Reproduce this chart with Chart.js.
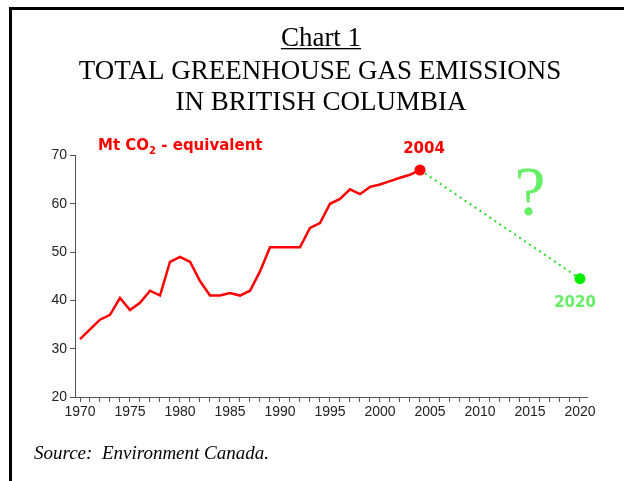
<!DOCTYPE html>
<html>
<head>
<meta charset="utf-8">
<script src="https://cdn.jsdelivr.net/npm/chart.js@4.4.1/dist/chart.umd.min.js"></script>
<style>
    html, body { margin: 0; padding: 0; background: #fff; }
    #chart { display: block; }
</style>
</head>
<body>
<canvas id="chart" width="624" height="481"></canvas>
<script>
// Emissions, Mt CO2-equivalent
const years = [1970, 1971, 1972, 1973, 1974, 1975, 1976, 1977, 1978, 1979,
               1980, 1981, 1982, 1983, 1984, 1985, 1986, 1987, 1988, 1989,
               1990, 1991, 1992, 1993, 1994, 1995, 1996, 1997, 1998, 1999,
               2000, 2001, 2002, 2003, 2004];
const emissions = [32, 34, 36, 37, 40.5, 38, 39.5, 42, 41, 48,
                   49, 48, 44, 41, 41, 41.5, 41, 42, 46, 51,
                   51, 51, 51, 55, 56, 60, 61, 63, 62, 63.5,
                   64, 64.7, 65.4, 66, 67];

// projection from 2004 to the 2020 target
const targetYears = [2004, 2020];
const targetValues = [67, 44.5];

const xLabelYears = [1970, 1975, 1980, 1985, 1990, 1995, 2000, 2005, 2010, 2015, 2020];
const yTicks = [20, 30, 40, 50, 60, 70];

const tickFont = { family: '"Liberation Sans", Arial, sans-serif', size: 14 };
const axisColor = '#555';

document.addEventListener('DOMContentLoaded', function() {
    const canvas = document.getElementById('chart');

    // frame, titles, labels drawn around the plot
    const decorations = {
        id: 'decorations',
        beforeDraw(chart) {
            const ctx = chart.ctx;
            ctx.save();
            ctx.fillStyle = '#fff';
            ctx.fillRect(0, 0, chart.width, chart.height);
            ctx.fillStyle = '#000';
            ctx.fillRect(9, 7, 3, 474);
            ctx.fillRect(9, 7, 615, 3);
            ctx.restore();
        },
        afterDraw(chart) {
            const ctx = chart.ctx;
            const x = chart.scales.x;
            const y = chart.scales.y;
            ctx.save();

            // titles
            ctx.fillStyle = '#000';
            ctx.textAlign = 'center';
            ctx.textBaseline = 'alphabetic';
            ctx.font = '27px "Liberation Serif", "Times New Roman", serif';
            ctx.fillText('Chart 1', 321, 46);
            const w = ctx.measureText('Chart 1').width;
            ctx.fillRect(321 - w / 2, 48, w, 1.3);
            ctx.fillText('TOTAL GREENHOUSE GAS EMISSIONS', 320, 79);
            ctx.fillText('IN BRITISH COLUMBIA', 321, 110);

            // source
            ctx.textAlign = 'left';
            ctx.font = 'italic 19px "Liberation Serif", "Times New Roman", serif';
            ctx.fillText('Source:  Environment Canada.', 34, 459);

            // unit label
            ctx.fillStyle = '#ff0000';
            ctx.font = 'bold 15px "DejaVu Sans", sans-serif';
            let tx = 98;
            ctx.fillText('Mt CO', tx, 150);
            tx += ctx.measureText('Mt CO').width;
            ctx.font = 'bold 10px "DejaVu Sans", sans-serif';
            ctx.fillText('2', tx, 154);
            tx += ctx.measureText('2').width;
            ctx.font = 'bold 15px "DejaVu Sans", sans-serif';
            ctx.fillText(' - equivalent', tx, 150);

            // point labels
            ctx.textAlign = 'center';
            const px1 = x.getPixelForValue(targetYears[0]);
            const py1 = y.getPixelForValue(targetValues[0]);
            ctx.fillText(String(targetYears[0]), px1 + 4, py1 - 17);

            const px2 = x.getPixelForValue(targetYears[1]);
            const py2 = y.getPixelForValue(targetValues[1]);
            ctx.fillStyle = '#66ee66';
            ctx.fillText(String(targetYears[1]), px2 - 5, py2 + 28);

            // question mark
            ctx.font = '70px "Liberation Serif", "Times New Roman", serif';
            ctx.fillText('?', 530, 215);

            ctx.restore();
        }
    };

    new Chart(canvas.getContext('2d'), {
        type: 'line',
        data: {
            datasets: [{
                data: years.map((yr, i) => ({ x: yr, y: emissions[i] })),
                borderColor: '#ff0000',
                backgroundColor: '#ff0000',
                borderWidth: 2.5,
                tension: 0,
                pointRadius: ctx => ctx.dataIndex === years.length - 1 ? 5.5 : 0,
                pointBorderWidth: 0
            }, {
                data: targetYears.map((yr, i) => ({ x: yr, y: targetValues[i] })),
                borderColor: '#22dd22',
                backgroundColor: '#00ee00',
                borderWidth: 2,
                borderDash: [2, 4],
                tension: 0,
                pointRadius: [0, 5.5],
                pointBorderWidth: 0
            }]
        },
        options: {
            responsive: false,
            animation: false,
            layout: {
                padding: { top: 155.5, right: 37, bottom: 54, left: 0 }
            },
            plugins: {
                legend: { display: false },
                tooltip: { enabled: false }
            },
            scales: {
                x: {
                    type: 'linear',
                    min: 1969.5,
                    max: 2020.7,
                    afterBuildTicks: scale => {
                        const ticks = [];
                        for (let v = xLabelYears[0]; v <= xLabelYears[xLabelYears.length - 1]; v++) {
                            ticks.push({ value: v });
                        }
                        scale.ticks = ticks;
                    },
                    afterFit: scale => { scale.height = 30; },
                    ticks: {
                        autoSkip: false,
                        maxRotation: 0,
                        padding: 2,
                        font: tickFont,
                        color: '#222',
                        callback: v => xLabelYears.includes(v) ? String(v) : ''
                    },
                    grid: { drawOnChartArea: false, tickLength: 5, color: axisColor },
                    border: { color: axisColor, width: 1 }
                },
                y: {
                    min: 20,
                    max: 70,
                    afterBuildTicks: scale => {
                        scale.ticks = yTicks.map(v => ({ value: v }));
                    },
                    afterFit: scale => { scale.width = 75; },
                    ticks: {
                        padding: 3,
                        font: tickFont,
                        color: '#222'
                    },
                    grid: { drawOnChartArea: false, tickLength: 5, color: axisColor },
                    border: { color: axisColor, width: 1 }
                }
            }
        },
        plugins: [decorations]
    });
});
</script>
</body>
</html>
